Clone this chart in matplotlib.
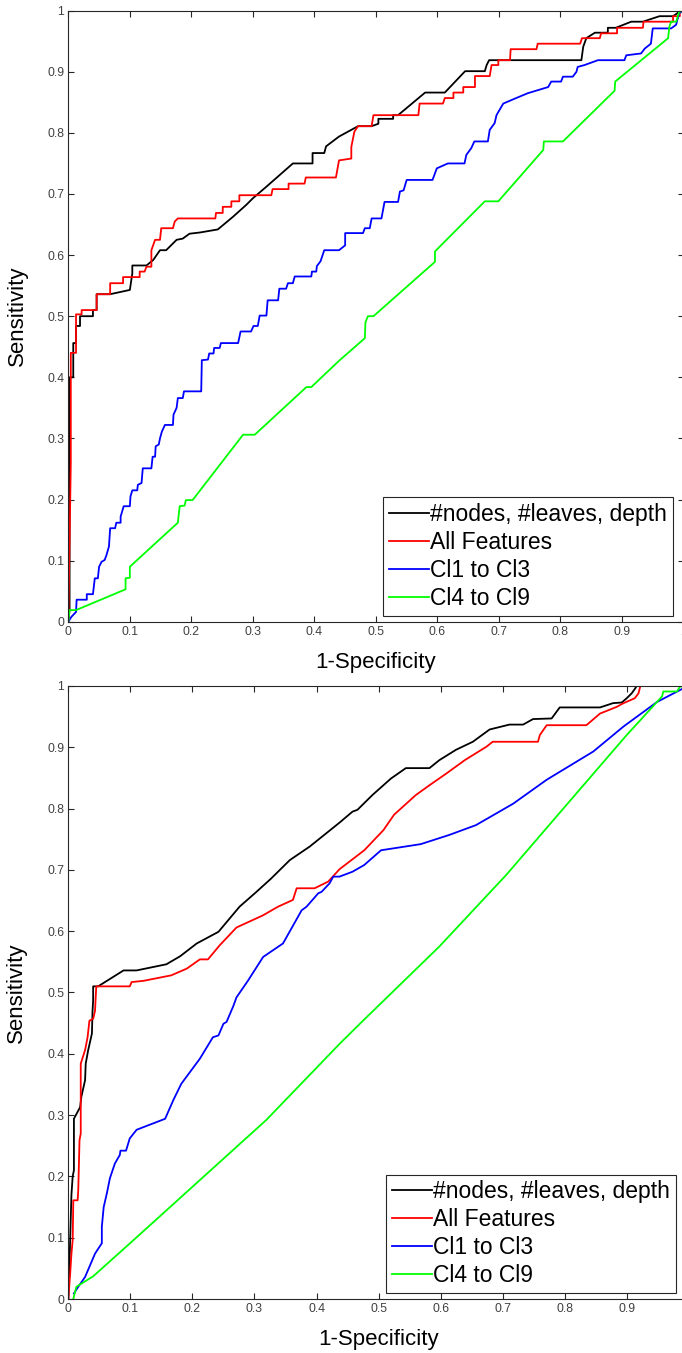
import numpy as np
import matplotlib.pyplot as plt

plt.rcParams['font.family'] = ['Liberation Sans', 'DejaVu Sans']

## Donnees (haut)

labels = ["#nodes, #leaves, depth", "All Features", "Cl1 to Cl3", "Cl4 to Cl9"]
couleurs = ["k", "r", "b", "#00ff00"]

haut_noir_x = [0, 0.002, 0.002, 0.008, 0.008, 0.0125, 0.0125, 0.019, 0.019, 0.04, 0.04, 0.046, 0.046, 0.068,
               0.1, 0.104, 0.104, 0.127, 0.138, 0.149, 0.159, 0.176, 0.186, 0.197, 0.214, 0.243, 0.268, 0.289,
               0.3, 0.322, 0.365, 0.397, 0.397, 0.416, 0.419, 0.44, 0.471, 0.493, 0.504, 0.504, 0.528, 0.528,
               0.536, 0.58, 0.612, 0.645, 0.677, 0.68, 0.684, 0.834, 0.837, 0.842, 0.856, 0.877, 0.877, 0.89,
               0.915, 0.934, 0.961, 0.983, 0.993, 1]
haut_noir_y = [0, 0.02, 0.4, 0.4, 0.456, 0.456, 0.484, 0.484, 0.5, 0.5, 0.51, 0.51, 0.536, 0.536,
               0.543, 0.57, 0.583, 0.583, 0.592, 0.608, 0.608, 0.625, 0.627, 0.635, 0.637, 0.642, 0.663, 0.682,
               0.693, 0.712, 0.75, 0.75, 0.767, 0.767, 0.778, 0.794, 0.811, 0.811, 0.815, 0.823, 0.823, 0.829,
               0.829, 0.866, 0.866, 0.901, 0.901, 0.911, 0.919, 0.919, 0.941, 0.955, 0.964, 0.964, 0.972, 0.972,
               0.982, 0.982, 0.991, 0.991, 0.998, 1]

haut_rouge_x = [0, 0.004, 0.004, 0.0125, 0.0125, 0.0216, 0.0216, 0.046, 0.046, 0.068, 0.068, 0.089, 0.089,
                0.116, 0.116, 0.124, 0.127, 0.135, 0.135, 0.141, 0.149, 0.151, 0.17, 0.173, 0.178, 0.239, 0.24,
                0.251, 0.251, 0.265, 0.265, 0.278, 0.278, 0.33, 0.332, 0.358, 0.358, 0.384, 0.386, 0.435, 0.44,
                0.46, 0.46, 0.465, 0.471, 0.493, 0.496, 0.569, 0.571, 0.609, 0.612, 0.626, 0.626, 0.642, 0.642,
                0.661, 0.661, 0.685, 0.688, 0.699, 0.699, 0.718, 0.719, 0.761, 0.763, 0.832, 0.835, 0.864, 0.866,
                0.892, 0.892, 0.934, 0.935, 0.983, 0.983, 0.994, 0.994, 1]
haut_rouge_y = [0, 0.26, 0.44, 0.44, 0.503, 0.503, 0.51, 0.51, 0.536, 0.536, 0.554, 0.554, 0.564,
                0.564, 0.573, 0.573, 0.581, 0.581, 0.608, 0.625, 0.625, 0.644, 0.644, 0.655, 0.66, 0.66, 0.669,
                0.669, 0.679, 0.679, 0.688, 0.688, 0.698, 0.698, 0.708, 0.708, 0.717, 0.717, 0.727, 0.727, 0.755,
                0.758, 0.777, 0.802, 0.811, 0.811, 0.829, 0.829, 0.848, 0.848, 0.857, 0.857, 0.866, 0.866, 0.875,
                0.875, 0.893, 0.893, 0.911, 0.911, 0.919, 0.919, 0.937, 0.937, 0.946, 0.946, 0.955, 0.955, 0.963,
                0.963, 0.972, 0.972, 0.982, 0.982, 0.991, 0.991, 0.998, 1]

haut_bleu_x = [0, 0.005, 0.0125, 0.0135, 0.03, 0.03, 0.04, 0.043, 0.048, 0.05, 0.054, 0.059, 0.062, 0.066,
               0.068, 0.076, 0.078, 0.085, 0.085, 0.09, 0.1, 0.101, 0.104, 0.112, 0.113, 0.119, 0.121, 0.135,
               0.137, 0.141, 0.142, 0.147, 0.149, 0.152, 0.157, 0.17, 0.171, 0.176, 0.178, 0.186, 0.188, 0.216,
               0.217, 0.227, 0.229, 0.236, 0.237, 0.246, 0.248, 0.276, 0.28, 0.297, 0.301, 0.308, 0.311, 0.322,
               0.324, 0.341, 0.343, 0.354, 0.357, 0.365, 0.368, 0.395, 0.396, 0.403, 0.404, 0.41, 0.416, 0.44,
               0.45, 0.45, 0.479, 0.482, 0.49, 0.493, 0.509, 0.514, 0.536, 0.539, 0.545, 0.55, 0.592, 0.599,
               0.617, 0.644, 0.647, 0.655, 0.66, 0.682, 0.685, 0.693, 0.696, 0.707, 0.728, 0.747, 0.78, 0.785,
               0.801, 0.804, 0.82, 0.826, 0.828, 0.839, 0.861, 0.904, 0.907, 0.931, 0.937, 0.947, 0.95, 0.98,
               0.988, 0.99, 0.993, 1]
haut_bleu_y = [0, 0.008, 0.016, 0.036, 0.036, 0.045, 0.045, 0.071, 0.071, 0.09, 0.098, 0.101, 0.109, 0.123,
               0.153, 0.153, 0.162, 0.162, 0.172, 0.189, 0.189, 0.205, 0.215, 0.215, 0.224, 0.227, 0.251, 0.251,
               0.27, 0.27, 0.287, 0.29, 0.3, 0.311, 0.322, 0.322, 0.339, 0.35, 0.366, 0.366, 0.377, 0.377,
               0.428, 0.429, 0.439, 0.439, 0.448, 0.448, 0.456, 0.456, 0.475, 0.475, 0.484, 0.484, 0.501, 0.501,
               0.526, 0.526, 0.545, 0.545, 0.554, 0.554, 0.565, 0.565, 0.573, 0.573, 0.582, 0.59, 0.608, 0.608,
               0.616, 0.636, 0.636, 0.644, 0.644, 0.66, 0.66, 0.687, 0.687, 0.704, 0.706, 0.723, 0.723, 0.742,
               0.75, 0.75, 0.764, 0.775, 0.786, 0.786, 0.805, 0.816, 0.829, 0.848, 0.857, 0.865, 0.875, 0.884,
               0.884, 0.892, 0.892, 0.9, 0.908, 0.911, 0.919, 0.919, 0.927, 0.93, 0.938, 0.946, 0.971, 0.971,
               0.977, 0.985, 0.996, 1]

haut_vert_x = [0, 0.002, 0.0125, 0.093, 0.093, 0.1, 0.1, 0.178, 0.181, 0.189, 0.191, 0.202, 0.284, 0.303,
               0.387, 0.395, 0.44, 0.482, 0.483, 0.487, 0.496, 0.596, 0.596, 0.677, 0.699, 0.772, 0.773, 0.804,
               0.888, 0.889, 0.975, 0.977, 0.98, 0.988, 0.993, 1]
haut_vert_y = [0, 0.019, 0.019, 0.053, 0.071, 0.072, 0.09, 0.162, 0.189, 0.19, 0.199, 0.199, 0.306, 0.306,
               0.384, 0.384, 0.427, 0.464, 0.49, 0.5, 0.5, 0.589, 0.606, 0.688, 0.688, 0.772, 0.786, 0.786,
               0.869, 0.884, 0.955, 0.974, 0.982, 0.982, 0.998, 1]

## Donnees (bas)

bas_noir_x = [0, 0.002, 0.003, 0.005, 0.007, 0.009, 0.009, 0.019, 0.021, 0.027, 0.028, 0.032, 0.038, 0.039,
              0.04, 0.04, 0.048, 0.089, 0.11, 0.158, 0.18, 0.207, 0.242, 0.276, 0.303, 0.327, 0.357, 0.389,
              0.437, 0.458, 0.466, 0.49, 0.52, 0.544, 0.582, 0.598, 0.625, 0.652, 0.679, 0.711, 0.733, 0.749,
              0.779, 0.792, 0.857, 0.878, 0.892, 0.9, 0.908, 0.913, 0.916, 1]
bas_noir_y = [0, 0.06, 0.1, 0.17, 0.2, 0.21, 0.294, 0.313, 0.33, 0.357, 0.384, 0.406, 0.433, 0.47,
              0.487, 0.51, 0.51, 0.536, 0.536, 0.546, 0.559, 0.58, 0.599, 0.64, 0.664, 0.686, 0.716, 0.738,
              0.777, 0.795, 0.798, 0.822, 0.849, 0.866, 0.866, 0.879, 0.896, 0.909, 0.929, 0.937, 0.937, 0.946,
              0.947, 0.965, 0.965, 0.972, 0.973, 0.98, 0.988, 0.995, 1, 1]

bas_rouge_x = [0, 0.003, 0.005, 0.007, 0.008, 0.015, 0.016, 0.018, 0.02, 0.02, 0.027, 0.031, 0.034, 0.04,
               0.043, 0.045, 0.099, 0.102, 0.121, 0.166, 0.191, 0.212, 0.225, 0.244, 0.271, 0.314, 0.338, 0.362,
               0.368, 0.397, 0.419, 0.437, 0.477, 0.508, 0.525, 0.56, 0.582, 0.609, 0.639, 0.674, 0.684, 0.757,
               0.76, 0.771, 0.835, 0.857, 0.884, 0.895, 0.913, 0.919, 0.922, 1]
bas_rouge_y = [0, 0.042, 0.074, 0.096, 0.161, 0.161, 0.178, 0.259, 0.27, 0.384, 0.406, 0.427, 0.454, 0.457,
               0.47, 0.51, 0.51, 0.517, 0.519, 0.528, 0.539, 0.554, 0.554, 0.577, 0.606, 0.626, 0.64, 0.651,
               0.67, 0.67, 0.681, 0.701, 0.732, 0.765, 0.79, 0.822, 0.838, 0.857, 0.879, 0.901, 0.909, 0.909,
               0.92, 0.936, 0.936, 0.955, 0.966, 0.972, 0.98, 0.988, 1, 1]

bas_bleu_x = [0.009, 0.016, 0.027, 0.043, 0.054, 0.054, 0.057, 0.062, 0.067, 0.075, 0.083, 0.084, 0.093,
              0.099, 0.11, 0.115, 0.156, 0.169, 0.182, 0.212, 0.233, 0.242, 0.25, 0.255, 0.266, 0.271, 0.29,
              0.314, 0.346, 0.376, 0.384, 0.403, 0.408, 0.421, 0.427, 0.437, 0.458, 0.477, 0.504, 0.568, 0.614,
              0.657, 0.717, 0.771, 0.846, 0.895, 0.949, 0.989, 1]
bas_bleu_y = [0.009, 0.02, 0.036, 0.074, 0.091, 0.118, 0.15, 0.172, 0.197, 0.221, 0.235, 0.242, 0.242,
              0.262, 0.276, 0.278, 0.294, 0.324, 0.351, 0.392, 0.427, 0.43, 0.449, 0.452, 0.478, 0.492, 0.52,
              0.558, 0.58, 0.634, 0.64, 0.662, 0.664, 0.678, 0.689, 0.689, 0.697, 0.708, 0.732, 0.742, 0.757,
              0.773, 0.808, 0.847, 0.893, 0.934, 0.974, 0.995, 1]

bas_vert_x = [0.008, 0.013, 0.04, 0.105, 0.212, 0.319, 0.437, 0.477, 0.598, 0.706, 0.814, 0.9, 0.957,
              0.959, 0.981, 0.986, 1]
bas_vert_y = [0, 0.02, 0.037, 0.096, 0.194, 0.292, 0.416, 0.456, 0.575, 0.692, 0.819, 0.92, 0.983,
              0.991, 0.991, 0.999, 1]

courbes_haut = [(haut_noir_x, haut_noir_y), (haut_rouge_x, haut_rouge_y),
                (haut_bleu_x, haut_bleu_y), (haut_vert_x, haut_vert_y)]
courbes_bas = [(bas_noir_x, bas_noir_y), (bas_rouge_x, bas_rouge_y),
               (bas_bleu_x, bas_bleu_y), (bas_vert_x, bas_vert_y)]

ticks = np.round(np.arange(0, 1.01, 0.1), 1)
tick_labels = ["0"] + ["%.1f" % t for t in ticks[1:-1]] + ["1"]

fig = plt.figure(figsize=(6.82, 13.53), dpi=100)
ax1 = fig.add_axes([0.1002, 0.5405, 0.902, 0.4516])
ax2 = fig.add_axes([0.1002, 0.0399, 0.9097, 0.4531])

for ax, courbes in [(ax1, courbes_haut), (ax2, courbes_bas)]:
    for (x, y), c, lab in zip(courbes, couleurs, labels):
        ax.plot(x, y, color=c, lw=1.3, label=lab)
    ax.set_xlim(0, 1)
    ax.set_ylim(0, 1)
    ax.set_xticks(ticks)
    ax.set_xticklabels(tick_labels)
    ax.set_yticks(ticks)
    ax.set_yticklabels(tick_labels)
    ax.tick_params(direction="in", top=True, right=True, length=4, width=0.8,
                   color="#262626", labelcolor="#404040", labelsize=8.8, pad=3)
    for s in ax.spines.values():
        s.set_color("#262626")
        s.set_linewidth(0.8)
    ax.set_xlabel("1-Specificity", fontsize=16)
    ax.set_ylabel("Sensitivity", fontsize=16)
    ax.xaxis.set_label_coords(0.5, -0.049)
    ax.yaxis.set_label_coords(-0.066, 0.5)
    leg = ax.legend(loc="lower left", bbox_to_anchor=(0.512, 0.0095), borderaxespad=0,
                    fontsize=16.5, fancybox=False, framealpha=1, edgecolor="#262626",
                    handlelength=1.75, handletextpad=0.05, labelspacing=0.22,
                    borderpad=0.25)
    leg.get_frame().set_linewidth(0.8)

plt.savefig("out.png", dpi=100)
